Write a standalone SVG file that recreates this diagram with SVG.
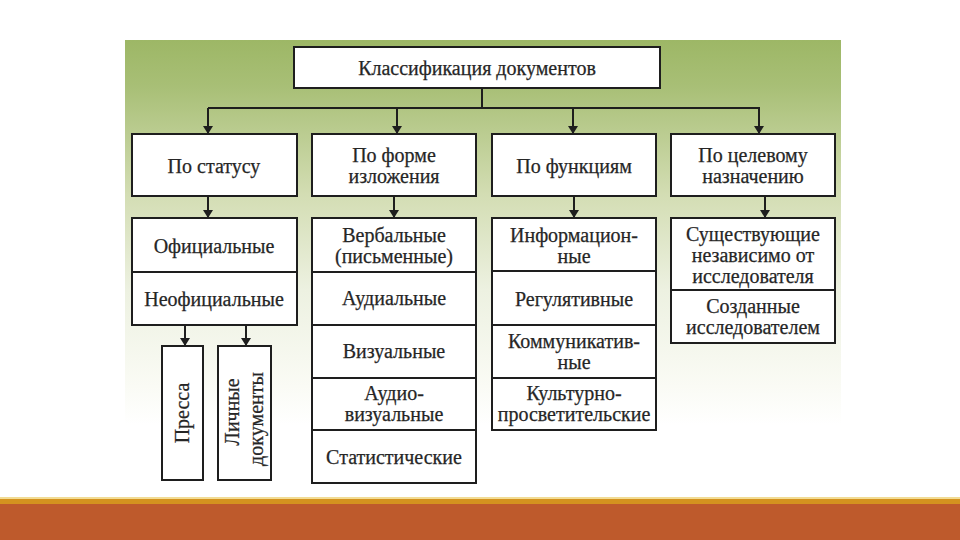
<svg xmlns="http://www.w3.org/2000/svg" width="960" height="540" viewBox="0 0 960 540">
<defs>
<linearGradient id="bg" x1="0" y1="0" x2="0" y2="1">
<stop offset="0" stop-color="#9DB766"/>
<stop offset="0.12" stop-color="#A8BF76"/>
<stop offset="0.4" stop-color="#D3DDB3"/>
<stop offset="0.65" stop-color="#EDF1E1"/>
<stop offset="0.9" stop-color="#FAFBF5"/>
<stop offset="1" stop-color="#FFFFFF"/>
</linearGradient>
<marker id="ah" markerWidth="8" markerHeight="10" refX="8" refY="5" orient="auto" markerUnits="userSpaceOnUse" viewBox="0 0 8 10">
<path d="M0,0 L8,5 L0,10 Z" fill="#1e1e1e"/>
</marker>
<style>
.box{fill:#fff;stroke:#1e1e1e;stroke-width:2}
.div{stroke:#1e1e1e;stroke-width:2}
.t{font-family:"Liberation Serif","Times New Roman",serif;font-size:20px;fill:#262626;stroke:#262626;stroke-width:0.25;text-anchor:middle}
.c{fill:none;stroke:#1e1e1e;stroke-width:2}
</style>
</defs>
<rect x="0" y="0" width="960" height="540" fill="#fff"/>
<rect x="125" y="40" width="716" height="385" fill="url(#bg)"/>
<rect x="0" y="497" width="960" height="2" fill="#F2DC94"/>
<rect x="0" y="499" width="960" height="5" fill="#D4921F"/>
<rect x="0" y="504" width="960" height="36" fill="#BE5A2C"/>

<g id="connectors">
<path class="c" d="M482,88 V108 M208,108 H760"/>
<path class="c" d="M208,108 V134" marker-end="url(#ah)"/>
<path class="c" d="M397,108 V134" marker-end="url(#ah)"/>
<path class="c" d="M573,108 V134" marker-end="url(#ah)"/>
<path class="c" d="M759,108 V134" marker-end="url(#ah)"/>
<path class="c" d="M208,196 V218" marker-end="url(#ah)"/>
<path class="c" d="M394,196 V218" marker-end="url(#ah)"/>
<path class="c" d="M574,196 V218" marker-end="url(#ah)"/>
<path class="c" d="M765,196 V218" marker-end="url(#ah)"/>
<path class="c" d="M185,325 V346" marker-end="url(#ah)"/>
<path class="c" d="M246,325 V346" marker-end="url(#ah)"/>
</g>

<g id="root">
<rect class="box" x="294" y="47" width="366" height="41"/>
<text class="t" x="477" y="75">Классификация документов</text>
</g>

<g id="status">
<rect class="box" x="132" y="134" width="165" height="62"/>
<text class="t" x="214" y="173">По статусу</text>
</g>
<g id="form">
<rect class="box" x="312" y="134" width="164" height="62"/>
<text class="t" x="394" y="162">По форме</text>
<text class="t" x="394" y="183">изложения</text>
</g>
<g id="function">
<rect class="box" x="492" y="134" width="164" height="62"/>
<text class="t" x="574" y="173">По функциям</text>
</g>
<g id="purpose">
<rect class="box" x="671" y="134" width="164" height="62"/>
<text class="t" x="753" y="162">По целевому</text>
<text class="t" x="753" y="183">назначению</text>
</g>

<g id="status-list">
<rect class="box" x="132" y="218" width="165" height="107"/>
<line class="div" x1="132" y1="272" x2="297" y2="272"/>
<text class="t" x="214" y="253">Официальные</text>
<text class="t" x="214" y="306">Неофициальные</text>
</g>

<g id="press">
<rect class="box" x="162" y="346" width="41" height="134"/>
<text class="t" transform="translate(189,413) rotate(-90)">Пресса</text>
</g>
<g id="personal">
<rect class="box" x="218" y="346" width="53" height="134"/>
<text class="t" transform="translate(239,412) rotate(-90)">Личные</text>
<text class="t" transform="translate(263,419) rotate(-90)">документы</text>
</g>

<g id="form-list">
<rect class="box" x="312" y="218" width="164" height="265"/>
<line class="div" x1="312" y1="272" x2="476" y2="272"/>
<line class="div" x1="312" y1="325" x2="476" y2="325"/>
<line class="div" x1="312" y1="378" x2="476" y2="378"/>
<line class="div" x1="312" y1="430" x2="476" y2="430"/>
<text class="t" x="394" y="242">Вербальные</text>
<text class="t" x="394" y="263">(письменные)</text>
<text class="t" x="394" y="305">Аудиальные</text>
<text class="t" x="394" y="358">Визуальные</text>
<text class="t" x="394" y="400">Аудио-</text>
<text class="t" x="394" y="421">визуальные</text>
<text class="t" x="394" y="464">Статистические</text>
</g>

<g id="function-list">
<rect class="box" x="492" y="218" width="164" height="212"/>
<line class="div" x1="492" y1="271" x2="656" y2="271"/>
<line class="div" x1="492" y1="325" x2="656" y2="325"/>
<line class="div" x1="492" y1="378" x2="656" y2="378"/>
<text class="t" x="574" y="242">Информацион-</text>
<text class="t" x="574" y="263">ные</text>
<text class="t" x="574" y="306">Регулятивные</text>
<text class="t" x="574" y="348">Коммуникатив-</text>
<text class="t" x="574" y="369">ные</text>
<text class="t" x="574" y="400">Культурно-</text>
<text class="t" x="574" y="421">просветительские</text>
</g>

<g id="purpose-list">
<rect class="box" x="671" y="218" width="164" height="125"/>
<line class="div" x1="671" y1="290" x2="835" y2="290"/>
<text class="t" x="753" y="241">Существующие</text>
<text class="t" x="753" y="262">независимо от</text>
<text class="t" x="753" y="283">исследователя</text>
<text class="t" x="753" y="313">Созданные</text>
<text class="t" x="753" y="334">исследователем</text>
</g>
</svg>
